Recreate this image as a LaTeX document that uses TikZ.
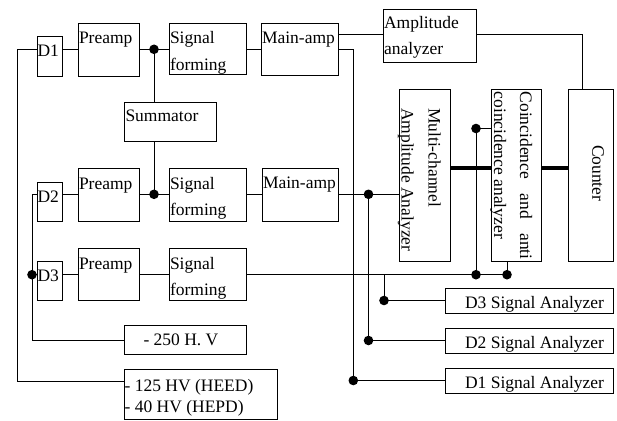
\documentclass[tikz,border=0pt]{standalone}
\usepackage{fontspec}
\setmainfont{Liberation Serif}
\usetikzlibrary{calc}
\begin{document}
\begin{tikzpicture}[x=1pt,y=-1pt,line width=0.9pt,
  box/.style={draw,inner sep=0pt,outer sep=0pt},
  txt/.style={anchor=base west,inner sep=0pt,outer sep=0pt,align=left,font=\fontsize{17.5}{26}\selectfont},
  rtxt/.style={txt,anchor=base east},
  vtxt/.style={txt,rotate=-90},
  dot/.style={circle,fill,inner sep=0pt,outer sep=0pt,minimum size=9.6pt},
  bus/.style={line width=4pt}]
\useasboundingbox (0,0) rectangle (617,420);
% boxes
\node[box,minimum width=25pt,minimum height=40pt] (D1) at (49.5,56) {};
\node[box,minimum width=25pt,minimum height=39pt] (D2) at (49.5,201.5) {};
\node[box,minimum width=25pt,minimum height=39pt] (D3) at (49.5,280.5) {};
\node[box,minimum width=61pt,minimum height=53pt] (pre1) at (108.5,49.5) {};
\node[box,minimum width=77pt,minimum height=51pt] (sf1) at (207.5,48.5) {};
\node[box,minimum width=77pt,minimum height=52pt] (ma1) at (299.5,49) {};
\node[box,minimum width=92pt,minimum height=39pt] (sum) at (170,121.5) {};
\node[box,minimum width=61pt,minimum height=53pt] (pre2) at (108.5,194.5) {};
\node[box,minimum width=77pt,minimum height=53pt] (sf2) at (207.5,194.5) {};
\node[box,minimum width=76pt,minimum height=53pt] (ma2) at (300,194.5) {};
\node[box,minimum width=61pt,minimum height=52pt] (pre3) at (108.5,274) {};
\node[box,minimum width=77pt,minimum height=52pt] (sf3) at (207.5,274) {};
\node[box,minimum width=93pt,minimum height=53pt] (amp) at (429.5,35.5) {};
\node[box,minimum width=51pt,minimum height=172pt] (mca) at (424.5,175) {};
\node[box,minimum width=50pt,minimum height=172pt] (coi) at (516,175) {};
\node[box,minimum width=45pt,minimum height=172pt] (cnt) at (590.5,175) {};
\node[box,minimum width=168pt,minimum height=25pt] (sa3) at (529,300.5) {};
\node[box,minimum width=168pt,minimum height=25pt] (sa2) at (529,340.5) {};
\node[box,minimum width=168pt,minimum height=25pt] (sa1) at (529,380.5) {};
\node[box,minimum width=122pt,minimum height=29pt] (hv1) at (185,339.5) {};
\node[box,minimum width=153pt,minimum height=50.5pt] (hv2) at (200.5,394.25) {};
% texts (base anchor of a two-line text is its last line)
\node[txt] (tD1) at ($(D1.north west)+(0.6,20.8)$) {D1};
\node[txt] (tD2) at ($(D2.north west)+(0.6,20.8)$) {D2};
\node[txt] (tD3) at ($(D3.north west)+(0.6,20.8)$) {D3};
\node[txt] (tpre1) at ($(pre1.north west)+(1,21)$) {Preamp};
\node[txt] (tsf1) at ($(sf1.north west)+(1,47)$) {Signal\\forming};
\node[txt] (tma1) at ($(ma1.north west)+(1,20.5)$) {Main-amp};
\node[txt] (tsum) at ($(sum.north west)+(1.5,19.8)$) {Summator};
\node[txt] (tpre2) at ($(pre2.north west)+(1,21)$) {Preamp};
\node[txt] (tsf2) at ($(sf2.north west)+(1,47)$) {Signal\\forming};
\node[txt] (tma2) at ($(ma2.north west)+(1,20.5)$) {Main-amp};
\node[txt] (tpre3) at ($(pre3.north west)+(1,21)$) {Preamp};
\node[txt] (tsf3) at ($(sf3.north west)+(1,47)$) {Signal\\forming};
\node[txt] (tamp) at ($(amp.north west)+(1,46)$) {Amplitude\\analyzer};
\node[vtxt,font=\fontsize{17.5}{27}\selectfont] (tmca) at (401.5,108) {Multi-channel\\Amplitude Analyzer};
\node[vtxt] (tcoi) at (494,91.7) {\hbox to 168pt{Coincidence\hfill and\hfill anti}\\coincidence analyzer};
\node[vtxt] (tcnt) at (592.3,145) {Counter};
\node[rtxt] (tsa3) at ($(sa3.north east)+(-9,20.3)$) {D3 Signal Analyzer};
\node[rtxt] (tsa2) at ($(sa2.north east)+(-9,20.3)$) {D2 Signal Analyzer};
\node[rtxt] (tsa1) at ($(sa1.north east)+(-9,20.3)$) {D1 Signal Analyzer};
\node[txt] (thv1) at ($(hv1.north west)+(19.5,20.7)$) {- 250 H. V};
\node[txt,font=\fontsize{17.5}{21.5}\selectfont] (thv2) at ($(hv2.north west)+(0.6,43.5)$) {- 125 HV (HEED)\\- 40 HV (HEPD)};
% junction coordinates
\coordinate (j1) at (154,49.3);
\coordinate (j2) at (154,194.3);
\coordinate (j3) at (368.5,194.3);
\coordinate (j4) at (32,274.7);
\coordinate (j5) at (476,274.7);
\coordinate (j6) at (507,274.7);
\coordinate (j7) at (476,128.5);
\coordinate (j8) at (384,300.5);
\coordinate (j9) at (368.5,340.5);
\coordinate (j10) at (353.3,380.5);
\coordinate (c1) at (17,49.3);
\coordinate (c2) at (17,381);
\coordinate (c3) at (32,194.3);
\coordinate (c4) at (32,340.7);
\coordinate (c5) at (353.3,49.3);
\coordinate (c6) at (582.7,34.3);
\coordinate (c7) at (384,274.7);
\coordinate (tk) at (470,168.3);
% connectors row 1
\draw (D1.east |- j1) -- (pre1.west |- j1);
\draw (pre1.east |- j1) -- (sf1.west |- j1);
\draw (sf1.east |- j1) -- (ma1.west |- j1);
\draw (ma1.east |- c6) -- (amp.west |- c6);
\draw (amp.east |- c6) -- (c6) -- (c6 |- cnt.north);
\draw (ma1.east |- j1) -- (c5) -- (j10) -- (sa1.west |- j10);
\draw (j1) -- (j1 |- sum.north);
\draw (j2 |- sum.south) -- (j2);
% row 2
\draw (D2.east |- j2) -- (pre2.west |- j2);
\draw (pre2.east |- j2) -- (sf2.west |- j2);
\draw (sf2.east |- j2) -- (ma2.west |- j2);
\draw (ma2.east |- j2) -- (mca.west |- j2);
\draw (j3) -- (j9) -- (sa2.west |- j9);
% row 3
\draw (D3.east |- j4) -- (pre3.west |- j4);
\draw (pre3.east |- j4) -- (sf3.west |- j4);
\draw (sf3.east |- j4) -- (j6) -- (j6 |- coi.south);
\draw (j5) -- (j7) -- (coi.west |- j7);
\draw (c7) -- (j8) -- (sa3.west |- j8);
% left supply lines
\draw (D1.west |- j1) -- (c1) -- (c2) -- (hv2.west |- c2);
\draw (D2.west |- j2) -- (c3) -- (c4) -- (hv1.west |- c4);
\draw (j4) -- (D3.west |- j4);
% buses
\draw[bus] (mca.east |- tk) -- (coi.west |- tk);
\draw[bus] (coi.east |- tk) -- (cnt.west |- tk);
% dots
\foreach \j in {j1,j2,j3,j4,j5,j6,j7,j8,j9,j10}
  \node[dot] at (\j) {};
\end{tikzpicture}
\end{document}
